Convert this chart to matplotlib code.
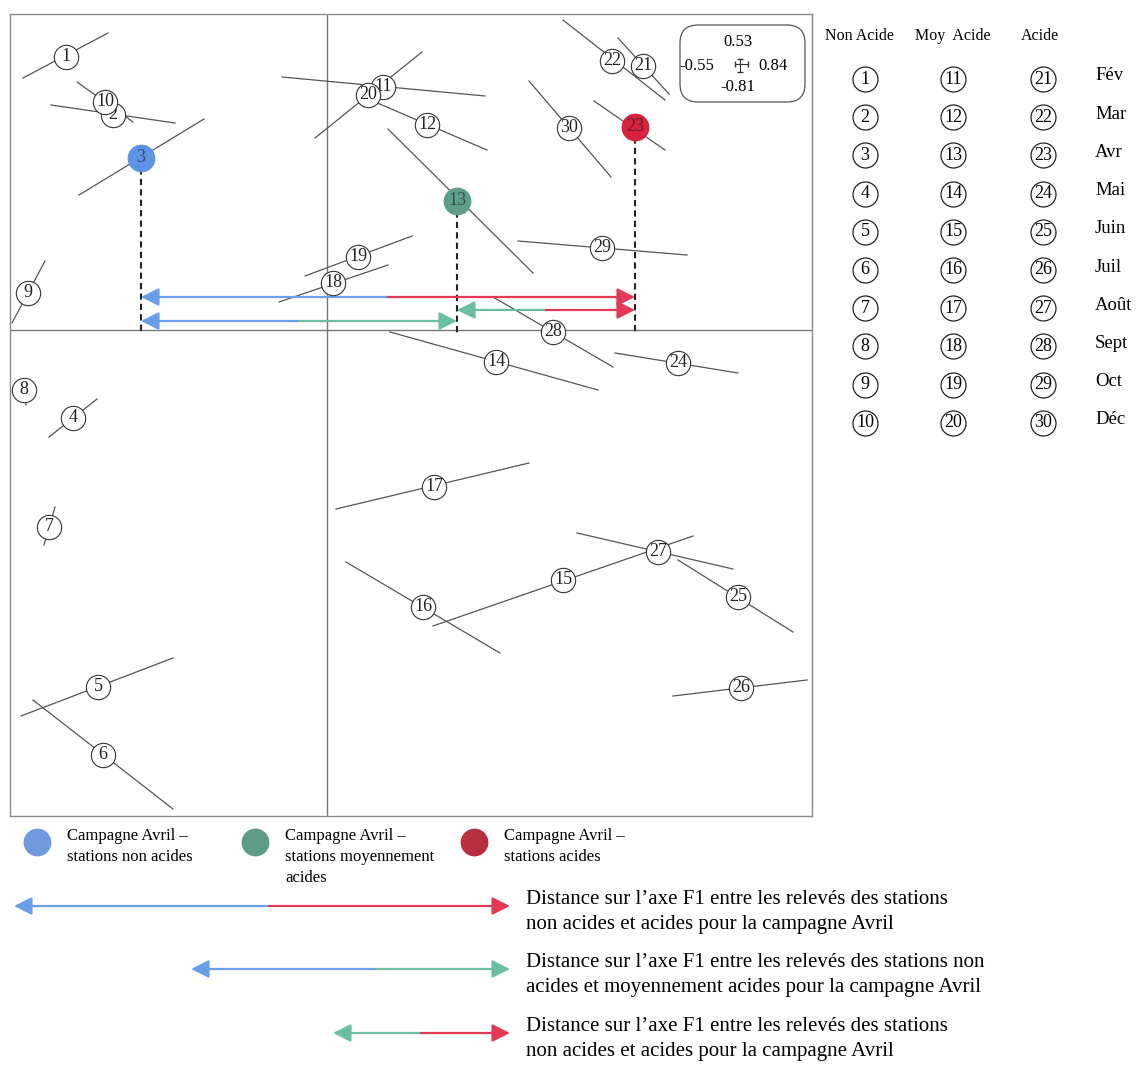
import matplotlib.pyplot as plt
from matplotlib.patches import FancyBboxPatch

plt.rcParams['font.family'] = ['Liberation Serif', 'DejaVu Serif']

W, H = 1140, 1066

# relevés 1-10 : stations non acides, 11-20 : moy. acides, 21-30 : acides
point_ids = list(range(1, 31))
f1 = [-2.61, -2.14, -1.86, -2.54, -2.29, -2.24, -2.78, -3.03, -2.99, -2.22,
      0.56, 1.00, 1.30, 1.69, 2.36, 0.96, 1.07, 0.06, 0.31, 0.41,
      3.16, 2.85, 3.08, 3.51, 4.11, 4.14, 3.31, 2.26, 2.75, 2.42]
f2 = [2.73, 2.15, 1.72, -0.88, -3.57, -4.25, -1.97, -0.60, 0.37, 2.28,
      2.43, 2.05, 1.29, -0.32, -2.50, -2.77, -1.57, 0.47, 0.73, 2.35,
      2.64, 2.69, 2.03, -0.33, -2.67, -3.58, -2.22, -0.02, 0.82, 2.02]

# segment drawn through each relevé
seg_x0 = [-3.04, -2.76, -2.48, -2.78, -3.06, -2.94, -2.72, -3.04, -2.82, -2.50,
          -0.45, 0.48, 0.61, 0.63, 1.06, 0.19, 0.09, -0.48, -0.22, -0.12,
          2.91, 2.36, 2.67, 2.88, 3.51, 3.46, 2.50, 1.66, 1.91, 2.02]
seg_y0 = [2.52, 2.25, 1.35, -1.07, -3.86, -3.70, -1.77, -0.52, 0.69, 2.48,
          2.53, 2.28, 2.01, -0.02, -2.96, -2.32, -1.79, 0.28, 0.54, 1.92,
          2.92, 3.10, 2.29, -0.23, -2.30, -3.66, -2.03, 0.33, 0.89, 2.49]
seg_x1 = [-2.19, -1.52, -1.23, -2.30, -1.54, -1.54, -2.83, -3.01, -3.15, -1.94,
          1.58, 1.60, 2.06, 2.71, 3.66, 1.73, 2.02, 0.61, 0.85, 0.95,
          3.42, 3.38, 3.38, 4.11, 4.66, 4.80, 4.06, 2.86, 3.60, 2.84]
seg_y1 = [2.97, 2.07, 2.11, -0.69, -3.28, -4.79, -2.15, -0.75, 0.07, 2.08,
          2.34, 1.80, 0.57, -0.60, -2.06, -3.23, -1.33, 0.65, 0.94, 2.78,
          2.36, 2.30, 1.80, -0.43, -3.02, -3.50, -2.39, -0.37, 0.75, 1.53]

# campagne Avril
april_ids = [3, 13, 23]
april_colors = ['#5f93e3', '#5f9f89', '#d8203f']

# scale box values
scale_up, scale_left, scale_right, scale_down = 0.53, -0.55, 0.84, -0.81

months = ['Fév', 'Mar', 'Avr', 'Mai', 'Juin', 'Juil', 'Août', 'Sept', 'Oct', 'Déc']
groups = ['Non Acide', 'Moy  Acide', 'Acide']

legend_labels = ['Campagne Avril –\nstations non acides',
                 'Campagne Avril –\nstations moyennement\nacides',
                 'Campagne Avril –\nstations acides']
legend_colors = ['#6f9ae0', '#5f9c88', '#b8303f']

dist_texts = ['Distance sur l’axe F1 entre les relevés des stations\n'
              'non acides et acides pour la campagne Avril',
              'Distance sur l’axe F1 entre les relevés des stations non\n'
              'acides et moyennement acides pour la campagne Avril',
              'Distance sur l’axe F1 entre les relevés des stations\n'
              'non acides et acides pour la campagne Avril']

BLUE, GREEN, RED = '#6a9ee8', '#6cbf9c', '#e23a55'

fig = plt.figure(figsize=(W / 100, H / 100), dpi=100)

# layout axes in pixels for the legends
lay = fig.add_axes([0, 0, 1, 1])
lay.set_xlim(0, W)
lay.set_ylim(H, 0)
lay.axis('off')

ax = fig.add_axes([10 / W, (H - 816) / H, 802 / W, 802 / H])
ax.set_xlim(-3.17, 4.85)
ax.set_ylim(-4.86, 3.16)
ax.set_xticks([])
ax.set_yticks([])
for sp in ax.spines.values():
    sp.set_color('#8a8a8a')
    sp.set_linewidth(1)
ax.axhline(0, color='#777777', lw=1, zorder=1)
ax.axvline(0, color='#777777', lw=1, zorder=1)

for i in range(len(point_ids)):
    ax.plot([seg_x0[i], seg_x1[i]], [seg_y0[i], seg_y1[i]], color='#555555', lw=0.9, zorder=2)

# dashed drop lines to the F1 axis
for pid in april_ids:
    k = pid - 1
    ax.plot([f1[k], f1[k]], [f2[k], -0.05], color='#222222', lw=1.5,
            ls=(0, (3, 2)), zorder=3)


def arrow(a, x0, x1, y, c, ms=12):
    a.annotate('', xy=(x1, y), xytext=(x0, y),
               arrowprops=dict(arrowstyle='-|>,head_length=0.9,head_width=0.45',
                               color=c, lw=1.6, shrinkA=0, shrinkB=0,
                               mutation_scale=ms), zorder=3)


def two_tone(a, xl, xr, y, cl, cr):
    mid = (xl + xr) / 2
    arrow(a, mid, xl, y, cl)
    arrow(a, mid, xr, y, cr)


x3, x13, x23 = f1[2], f1[12], f1[22]
two_tone(ax, x3, x23, 0.33, BLUE, RED)
two_tone(ax, x13, x23, 0.20, GREEN, RED)
two_tone(ax, x3, x13, 0.09, BLUE, GREEN)

# later circles cover earlier ones (10 sits on top of 2)
for i, pid in enumerate(point_ids):
    z = 4 + i * 0.02
    if pid in april_ids:
        c = april_colors[april_ids.index(pid)]
        ax.plot(f1[i], f2[i], 'o', ms=19, mfc=c, mec=c, zorder=z)
        ax.text(f1[i], f2[i], str(pid), ha='center', va='center', fontsize=13,
                color='#1a1a2a', alpha=0.6, zorder=z + 0.01)
    else:
        ax.plot(f1[i], f2[i], 'o', ms=17.5, mfc='white', mec='#333333', mew=0.8, zorder=z)
        ax.text(f1[i], f2[i], str(pid), ha='center', va='center', fontsize=13,
                color='#222222', zorder=z + 0.01)

# scale box
box = FancyBboxPatch((3.53, 2.28), 1.25, 0.77, boxstyle='round,pad=0,rounding_size=0.18',
                     fc='white', ec='#555555', lw=0.9, zorder=5)
ax.add_patch(box)
cx, cy = 4.13, 2.66
ax.errorbar(cx, cy, xerr=[[-scale_left / 10], [scale_right / 10]],
            yerr=[[-scale_down / 10], [scale_up / 10]], fmt='none', ecolor='#333333',
            elinewidth=0.8, capsize=2, zorder=6)
ax.text(4.11, 2.88, f'{scale_up:.2f}', ha='center', va='center', fontsize=12, zorder=6)
ax.text(4.11, 2.43, f'{scale_down:.2f}', ha='center', va='center', fontsize=12, zorder=6)
ax.text(3.70, 2.64, f'{scale_left:.2f}', ha='center', va='center', fontsize=12, zorder=6)
ax.text(4.46, 2.64, f'{scale_right:.2f}', ha='center', va='center', fontsize=12, zorder=6)

# right-hand key: numbers per station type and month
col_x = [865, 953, 1043]
head_x = [859, 953, 1040]
for j, g in enumerate(groups):
    lay.text(head_x[j], 36, g, ha='center', va='center', fontsize=11.5)
    for r in range(len(months)):
        y = 79 + r * 38.2
        lay.plot(col_x[j], y, 'o', ms=18, mfc='none', mec='#222222', mew=0.9)
        lay.text(col_x[j], y, str(j * 10 + r + 1), ha='center', va='center', fontsize=13)
for r, m in enumerate(months):
    lay.text(1095, 76 + r * 38.2, m, ha='left', va='center', fontsize=13.5)

# bottom key: coloured dots
leg_x = [37, 255, 474]
for k in range(3):
    lay.plot(leg_x[k], 842, 'o', ms=19, mfc=legend_colors[k], mec=legend_colors[k])
    lay.text(leg_x[k] + 30, 828, legend_labels[k], ha='left', va='top', fontsize=12,
             linespacing=1.42)

# bottom key: distance arrows
key_y = [906, 969, 1033]
key_left = [14, 191, 333]
key_split = [269, 376, 421]
key_cols = [(BLUE, RED), (BLUE, GREEN), (GREEN, RED)]
for k in range(3):
    arrow(lay, key_split[k], key_left[k], key_y[k], key_cols[k][0])
    arrow(lay, key_split[k], 510, key_y[k], key_cols[k][1])
    lay.text(526, key_y[k] + 6, dist_texts[k], ha='left', va='center', fontsize=15,
             linespacing=1.42)

fig.savefig('out.png', dpi=100)
